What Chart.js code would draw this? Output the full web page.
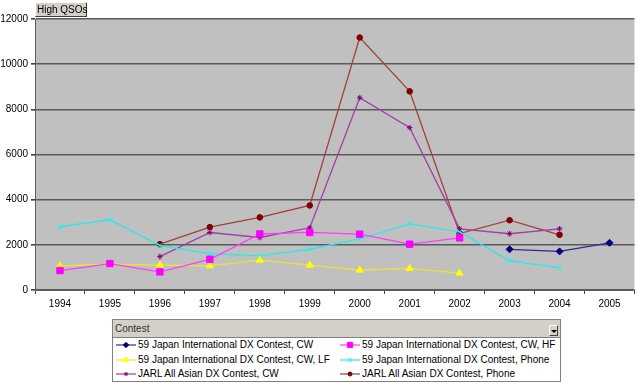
<!DOCTYPE html>
<html>
<head>
<meta charset="utf-8">
<script src="https://cdn.jsdelivr.net/npm/chart.js@4/dist/chart.umd.min.js"></script>
<style>
  html, body { margin: 0; padding: 0; background: #fff; }
  #wrap { position: relative; width: 640px; height: 383px; overflow: hidden; font-family: "Liberation Sans", Arial, sans-serif; }
  #c { position: absolute; left: 0; top: 0; }
  #fieldBtn { position: absolute; left: 35px; top: 2px; width: 49px; height: 13px; background: #D4D0C8;
    border: 1px solid; border-color: #fff #404040 #404040 #fff; font-size: 10px; line-height: 13px;
    padding-left: 1px; color: #000; white-space: nowrap; }
  #legend { position: absolute; left: 112px; top: 319px; width: 447px; height: 61px; border: 1px solid #808080; background: #fff; }
  #legHead { position: absolute; left: 0; top: 0; width: 447px; height: 18px; background: #D4D0C8; border-bottom: 1px solid #808080;
    font-size: 10px; line-height: 17px; color: #303030; padding-left: 2px; box-sizing: border-box; }
  #drop { position: absolute; right: 2px; top: 5px; width: 9px; height: 11px; background: #D4D0C8;
    border: 1px solid; border-color: #fff #404040 #404040 #fff; box-sizing: border-box; }
  #drop:after { content: ""; position: absolute; left: 1px; top: 4px; border-left: 3px solid transparent; border-right: 3px solid transparent; border-top: 3px solid #000; }
  .item { position: absolute; height: 14px; font-size: 10px; line-height: 14px; color: #000; white-space: nowrap; }
  .item canvas { position: absolute; left: 0; top: 0; }
  .item span { position: absolute; left: 23px; top: 0; }
</style>
</head>
<body>
<div id="wrap">
  <canvas id="c" width="640" height="383"></canvas>
  <div id="fieldBtn">High QSOs</div>
  <div id="legend"><div id="legHead">Contest<div id="drop"></div></div></div>
</div>
<script>
const years = ['1994','1995','1996','1997','1998','1999','2000','2001','2002','2003','2004','2005'];
const seriesNames = [
  '59 Japan International DX Contest, CW',
  '59 Japan International DX Contest, CW, HF',
  '59 Japan International DX Contest, CW, LF',
  '59 Japan International DX Contest, Phone',
  'JARL All Asian DX Contest, CW',
  'JARL All Asian DX Contest, Phone'
];
const jidxCW      = [null, null, null, null, null, null, null, null, null, 1800, 1710, 2090];
const jidxCWHF    = [860, 1170, 800, 1360, 2480, 2550, 2470, 2030, 2310, null, null, null];
const jidxCWLF    = [1070, 1140, 1100, 1070, 1320, 1100, 880, 955, 750, null, null, null];
const jidxPhone   = [2800, 3110, 1970, 1615, 1510, 1805, 2265, 2930, 2570, 1295, 975, null];
const jarlCW      = [null, null, 1480, 2545, 2325, 2755, 8515, 7190, 2710, 2490, 2710, null];
const jarlPhone   = [null, null, 2030, 2785, 3215, 3745, 11180, 8795, 2500, 3090, 2445, null];
const yTicks = [0, 2000, 4000, 6000, 8000, 10000, 12000];

const styles = [
  { line: '#2e2e8c', point: '#000080', ps: 'rectRot', r: 3.5 },
  { line: '#ff3cff', point: '#ff00ff', ps: 'rect', r: 4.5 },
  { line: '#e8e830', point: '#ffff00', ps: 'triangle', r: 4 },
  { line: '#30e6e6', point: '#00ffff', ps: 'crossRot', r: 3.5 },
  { line: '#a040a0', point: '#800080', ps: 'star', r: 2.8 },
  { line: '#a04040', point: '#800000', ps: 'circle', r: 2.8 }
];
const values = [jidxCW, jidxCWHF, jidxCWLF, jidxPhone, jarlCW, jarlPhone];

const datasets = values.map((d, i) => ({
  label: seriesNames[i],
  data: d,
  borderColor: styles[i].line,
  backgroundColor: styles[i].point,
  pointBorderColor: styles[i].point,
  pointBackgroundColor: styles[i].point,
  pointStyle: styles[i].ps,
  pointRadius: styles[i].r,
  pointBorderWidth: 1,
  borderWidth: 1.3,
  tension: 0,
  spanGaps: false
}));

const bgPlugin = {
  id: 'plotBg',
  beforeDraw(chart) {
    const { ctx, chartArea: a } = chart;
    ctx.save();
    ctx.fillStyle = '#C0C0C0';
    ctx.fillRect(a.left, a.top, a.right - a.left, a.bottom - a.top);
    ctx.restore();
  }
};

const chart = new Chart(document.getElementById('c'), {
  type: 'line',
  data: { labels: years, datasets },
  plugins: [bgPlugin],
  options: {
    responsive: false,
    animation: false,
    layout: { padding: { top: 19, right: 2, bottom: 0, left: 0 } },
    plugins: { legend: { display: false }, tooltip: { enabled: false } },
    scales: {
      x: {
        offset: true,
        grid: { offset: true, drawOnChartArea: false, drawTicks: true, tickLength: 4, tickColor: '#404040' },
        border: { color: '#606060', width: 1 },
        ticks: { color: '#000', font: { family: 'Liberation Sans', size: 10 }, padding: 4, maxRotation: 0, autoSkip: false },
        afterFit(s) { s.height = 93; }
      },
      y: {
        min: 0, max: 12000,
        afterBuildTicks(s) { s.ticks = yTicks.map(v => ({ value: v })); },
        grid: { color: '#5a5a5a', lineWidth: 1.6, drawTicks: true, tickLength: 4, tickColor: '#404040' },
        border: { color: '#606060', width: 1 },
        ticks: { color: '#000', font: { family: 'Liberation Sans', size: 10 }, padding: 3, callback: v => String(v) },
        afterFit(s) { s.width = 35; }
      }
    }
  }
});

// HTML legend built from the chart's datasets
const legend = document.getElementById('legend');
const colX = [2, 226];
const rowY = [18, 33, 47];
chart.data.datasets.forEach((ds, i) => {
  const item = document.createElement('div');
  item.className = 'item';
  item.style.left = colX[i % 2] + 'px';
  item.style.top = rowY[Math.floor(i / 2)] + 'px';
  const cv = document.createElement('canvas');
  cv.width = 22; cv.height = 14;
  const ctx = cv.getContext('2d');
  ctx.strokeStyle = ds.borderColor;
  ctx.globalAlpha = 0.6;
  ctx.lineWidth = 2;
  ctx.beginPath(); ctx.moveTo(1, 7); ctx.lineTo(21, 7); ctx.stroke();
  ctx.globalAlpha = 1;
  ctx.fillStyle = ds.pointBackgroundColor;
  ctx.strokeStyle = ds.pointBorderColor;
  ctx.lineWidth = 1;
  if (Chart.helpers && Chart.helpers.drawPoint) {
    Chart.helpers.drawPoint(ctx, { pointStyle: ds.pointStyle, radius: Math.max(2, ds.pointRadius - 0.8), rotation: 0, borderWidth: 1 }, 11, 7);
  } else {
    ctx.beginPath(); ctx.arc(11, 7, 2.5, 0, Math.PI * 2); ctx.fill();
  }
  item.appendChild(cv);
  const sp = document.createElement('span');
  sp.textContent = ds.label;
  item.appendChild(sp);
  legend.appendChild(item);
});
</script>
</body>
</html>
